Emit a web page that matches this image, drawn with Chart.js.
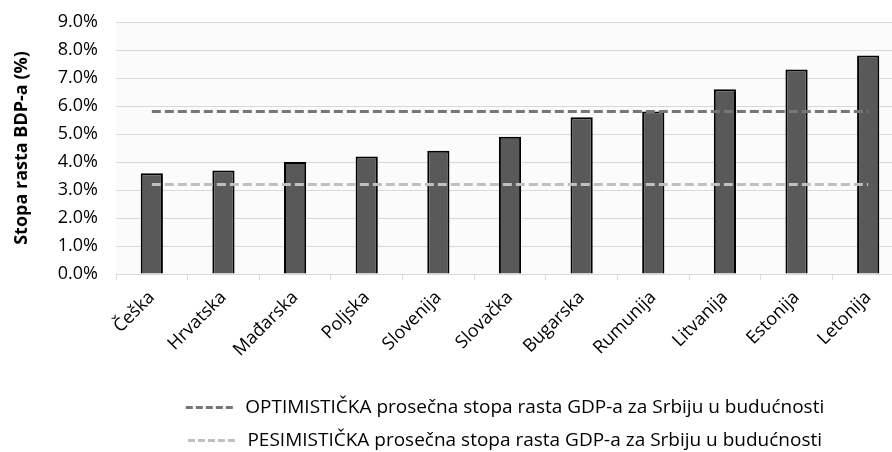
<!DOCTYPE html>
<html>
<head>
<meta charset="utf-8">
<script src="https://cdn.jsdelivr.net/npm/chart.js@4/dist/chart.umd.min.js"></script>
<style>
    body { margin: 0; background: #fff; }
    #wrap { width: 892px; height: 452px; overflow: hidden; }
</style>
</head>
<body>
<div id="wrap">
    <canvas id="gdpChart" width="1010" height="460"></canvas>
</div>
<script>
// Data
const countries = ['Češka', 'Hrvatska', 'Mađarska', 'Poljska', 'Slovenija', 'Slovačka',
    'Bugarska', 'Rumunija', 'Litvanija', 'Estonija', 'Letonija'];
const growthRates = [3.6, 3.7, 4.0, 4.2, 4.4, 4.9, 5.6, 5.8, 6.6, 7.3, 7.8];
const optimistic = [5.8, 5.8, 5.8, 5.8, 5.8, 5.8, 5.8, 5.8, 5.8, 5.8, 5.8];
const pessimistic = [3.2, 3.2, 3.2, 3.2, 3.2, 3.2, 3.2, 3.2, 3.2, 3.2, 3.2];
const optimisticLabel = 'OPTIMISTIČKA prosečna stopa rasta GDP-a za Srbiju u budućnosti';
const pessimisticLabel = 'PESIMISTIČKA prosečna stopa rasta GDP-a za Srbiju u budućnosti';
const yTitle = 'Stopa rasta BDP-a (%)';

const FONT = '"Open Sans", "Noto Sans", sans-serif';

// light plot-area background, like the Excel original
const plotBackground = {
    id: 'plotBackground',
    beforeDraw(chart) {
        const { ctx, chartArea: a } = chart;
        ctx.save();
        ctx.fillStyle = '#fbfbfb';
        ctx.fillRect(a.left, a.top, a.right - a.left, a.bottom - a.top);
        ctx.restore();
    }
};

const ctx = document.getElementById('gdpChart').getContext('2d');
new Chart(ctx, {
    type: 'bar',
    data: {
        labels: countries,
        datasets: [
            {
                type: 'line',
                label: optimisticLabel,
                data: optimistic,
                borderColor: '#767676',
                borderWidth: 3,
                borderDash: [9, 4],
                pointRadius: 0,
                fill: false
            },
            {
                type: 'line',
                label: pessimisticLabel,
                data: pessimistic,
                borderColor: '#c0c0c0',
                borderWidth: 3,
                borderDash: [9, 4],
                pointRadius: 0,
                fill: false
            },
            {
                label: 'bars',
                data: growthRates,
                backgroundColor: '#595959',
                borderColor: '#000000',
                borderWidth: 2,
                categoryPercentage: 1,
                barPercentage: 0.31
            }
        ]
    },
    options: {
        responsive: false,
        animation: false,
        layout: { padding: { top: 22, bottom: 0, left: 0, right: 0 } },
        plugins: {
            tooltip: { enabled: false },
            legend: {
                position: 'bottom',
                labels: {
                    usePointStyle: true,
                    pointStyle: 'line',
                    pointStyleWidth: 50,
                    padding: 14,
                    color: '#000',
                    font: { family: FONT, size: 19 },
                    filter: (item) => item.datasetIndex !== 2,
                    // dashed legend sample, a bit tighter than the plotted line
                    generateLabels: (chart) => Chart.defaults.plugins.legend.labels.generateLabels(chart)
                        .map(l => ({ ...l, lineDash: [7, 3] }))
                }
            }
        },
        scales: {
            x: {
                grid: { drawOnChartArea: false, drawTicks: true, tickLength: 6, color: '#d9d9d9' },
                border: { color: '#d9d9d9' },
                ticks: {
                    color: '#000',
                    font: { family: FONT, size: 18 },
                    minRotation: 45,
                    maxRotation: 45,
                    padding: 7
                },
                afterFit: (s) => { s.height = 110; }
            },
            y: {
                min: 0,
                max: 9,
                grid: { color: '#d9d9d9', drawTicks: false },
                border: { display: false },
                ticks: {
                    stepSize: 1,
                    color: '#000',
                    padding: 18,
                    font: { family: FONT, size: 18 },
                    callback: (v) => v.toFixed(1) + '%'
                },
                title: {
                    display: true,
                    text: yTitle,
                    color: '#000',
                    font: { family: FONT, size: 18, weight: 'bold' },
                    padding: { top: 11, bottom: 0 }
                },
                afterFit: (s) => {
                    s.width = 116;
                    s.paddingTop = 0; // let layout padding alone set the top of the plot
                }
            },
            // empty spacer so the plot runs past the visible right edge, as in the reference
            spacer: {
                position: 'right',
                display: true,
                grid: { display: false },
                border: { display: false },
                ticks: { display: false },
                afterFit: (s) => { s.width = 106; }
            }
        }
    },
    plugins: [plotBackground]
});
</script>
</body>
</html>
